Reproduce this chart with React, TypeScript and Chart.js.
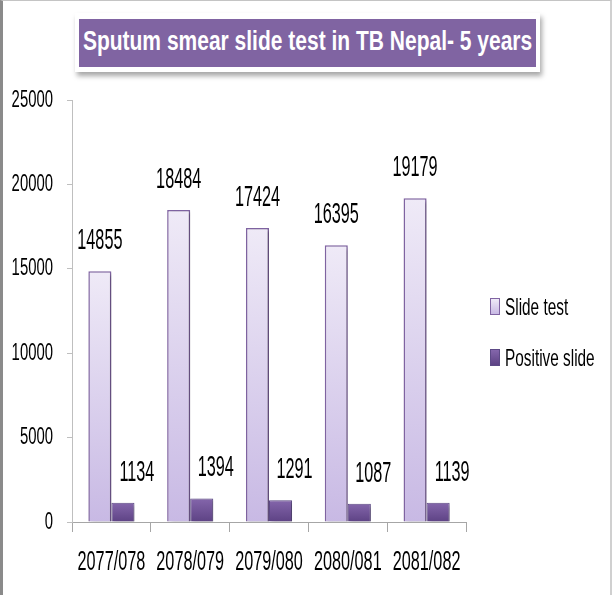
import React, { useEffect, useRef } from "react";
import { Chart, registerables } from "chart.js";
Chart.register(...registerables);

const categories = ["2077/078", "2078/079", "2079/080", "2080/081", "2081/082"];
const slideTest = [14855, 18484, 17424, 16395, 19179];
const positiveSlide = [1134, 1394, 1291, 1087, 1139];
const seriesNames = ["Slide test", "Positive slide"];
const titleText = "Sputum smear slide test in TB Nepal- 5 years";
const yMin = 0;
const yMax = 25000;
const yStep = 5000;

const FONT = "'Liberation Sans', Arial, sans-serif";

function drawCondensed(
  ctx: CanvasRenderingContext2D,
  text: string,
  x: number,
  y: number,
  size: number,
  sx: number,
  align: CanvasTextAlign
) {
  ctx.save();
  ctx.font = `${size}px ${FONT}`;
  ctx.fillStyle = "#000000";
  ctx.textAlign = align;
  ctx.textBaseline = "middle";
  ctx.translate(x, y);
  ctx.scale(sx, 1);
  ctx.fillText(text, 0, 0);
  ctx.restore();
}

const shadowPlugin = {
  id: "barShadow",
  beforeDatasetsDraw(chart: any) {
    const ctx = chart.ctx;
    ctx.save();
    ctx.shadowColor = "rgba(0,0,0,0.3)";
    ctx.shadowOffsetX = 2;
    ctx.shadowOffsetY = 2;
    ctx.shadowBlur = 3;
  },
  afterDatasetsDraw(chart: any) {
    chart.ctx.restore();
  },
};

const textPlugin = {
  id: "condensedText",
  afterDraw(chart: any) {
    const ctx = chart.ctx as CanvasRenderingContext2D;
    const area = chart.chartArea;
    const ys = chart.scales.y;
    ys.ticks.forEach((t: any, i: number) => {
      drawCondensed(ctx, String(t.value), area.left - 19, ys.getPixelForTick(i), 24, 0.62, "right");
    });
    const xs = chart.scales.x;
    xs.ticks.forEach((t: any, i: number) => {
      const lbl = xs.getLabelForValue(t.value);
      drawCondensed(ctx, String(lbl), xs.getPixelForTick(i), area.bottom + 40, 28, 0.58, "center");
    });
    chart.data.datasets.forEach((ds: any, di: number) => {
      const meta = chart.getDatasetMeta(di);
      meta.data.forEach((bar: any, i: number) => {
        const dx = di === 0 ? 0 : 14;
        drawCondensed(ctx, String(ds.data[i]), bar.x + dx, bar.y - 30, 29, 0.56, "center");
      });
    });
  },
};

function gradientFill(top: string, bottom: string) {
  return (context: any) => {
    const chart = context.chart;
    if (!chart.chartArea || context.raw === undefined) return bottom;
    const ys = chart.scales.y;
    const y0 = ys.getPixelForValue(context.raw);
    const y1 = ys.getPixelForValue(0);
    if (!isFinite(y0) || !isFinite(y1) || y0 === y1) return bottom;
    const g = chart.ctx.createLinearGradient(0, y0, 0, y1);
    g.addColorStop(0, top);
    g.addColorStop(1, bottom);
    return g;
  };
}

export default function App() {
  const ref = useRef<HTMLCanvasElement | null>(null);

  useEffect(() => {
    if (!ref.current) return;
    const chart = new Chart(ref.current, {
      type: "bar",
      data: {
        labels: categories,
        datasets: [
          {
            label: seriesNames[0],
            data: slideTest,
            backgroundColor: gradientFill("#efeaf7", "#c8b9e4"),
            borderColor: "#8064a2",
            borderWidth: 1.5,
            categoryPercentage: 0.585,
            barPercentage: 1.0,
          },
          {
            label: seriesNames[1],
            data: positiveSlide,
            backgroundColor: gradientFill("#8466ab", "#5d4284"),
            borderColor: "#5d4a86",
            borderWidth: 1,
            categoryPercentage: 0.585,
            barPercentage: 1.0,
          },
        ],
      },
      options: {
        responsive: false,
        animation: false,
        devicePixelRatio: 1,
        layout: { padding: { left: 0, top: 100, right: 146, bottom: 0 } },
        plugins: {
          legend: { display: false },
          title: { display: false },
          tooltip: { enabled: false },
        },
        scales: {
          x: {
            grid: {
              offset: true,
              drawOnChartArea: false,
              drawTicks: true,
              tickLength: 10,
              color: "#a6a6a6",
            },
            border: { color: "#a6a6a6", width: 1 },
            ticks: { display: false },
            afterFit(scale: any) {
              scale.height = 73;
            },
          },
          y: {
            min: yMin,
            max: yMax,
            grid: {
              drawOnChartArea: false,
              drawTicks: true,
              tickLength: 5,
              color: "#bfbfbf",
            },
            border: { color: "#bfbfbf", width: 1 },
            ticks: { display: false, stepSize: yStep },
            afterFit(scale: any) {
              scale.width = 72;
            },
          },
        },
      },
      plugins: [shadowPlugin, textPlugin],
    });
    return () => chart.destroy();
  }, []);

  const legendText: React.CSSProperties = {
    position: "absolute",
    left: 505,
    fontFamily: FONT,
    fontSize: 24,
    lineHeight: "24px",
    color: "#000",
    whiteSpace: "nowrap",
    transform: "scaleX(0.64)",
    transformOrigin: "left center",
  };

  return (
    <div style={{ position: "absolute", left: 0, top: 0, width: 612, height: 595, background: "#fff", overflow: "hidden" }}>
      <canvas ref={ref} width={612} height={595} style={{ position: "absolute", left: 0, top: 0, display: "block" }} />
      <div
        style={{
          position: "absolute",
          left: 75,
          top: 13,
          width: 465,
          height: 59,
          background: "#fff",
          boxShadow: "2px 4px 5px rgba(0,0,0,0.35)",
        }}
      />
      <div
        style={{
          position: "absolute",
          left: 79,
          top: 19,
          width: 457,
          height: 48,
          background: "#8064a2",
          display: "flex",
          alignItems: "center",
          justifyContent: "center",
          overflow: "visible",
        }}
      >
        <span
          style={{
            display: "inline-block",
            fontFamily: FONT,
            fontWeight: "bold",
            fontSize: 28,
            lineHeight: "28px",
            color: "#fff",
            whiteSpace: "nowrap",
            transform: "scaleX(0.75)",
            transformOrigin: "center center",
            marginTop: -4,
          }}
        >
          {titleText}
        </span>
      </div>
      <div
        style={{
          position: "absolute",
          left: 490,
          top: 298,
          width: 8,
          height: 15,
          border: "1px solid #8064a2",
          background: "linear-gradient(#efeaf7, #c8b9e4)",
        }}
      />
      <div style={{ ...legendText, top: 295 }}>{seriesNames[0]}</div>
      <div
        style={{
          position: "absolute",
          left: 490,
          top: 349,
          width: 8,
          height: 15,
          border: "1px solid #5d4a86",
          background: "linear-gradient(#8466ab, #5d4284)",
        }}
      />
      <div style={{ ...legendText, top: 346 }}>{seriesNames[1]}</div>
      <div
        style={{
          position: "absolute",
          left: 0,
          top: 0,
          width: 612,
          height: 595,
          boxSizing: "border-box",
          borderLeft: "3px solid #8a8a8a",
          borderTop: "1px solid #c4c4c4",
          borderRight: "2px solid #d0d0d0",
          pointerEvents: "none",
        }}
      />
    </div>
  );
}
